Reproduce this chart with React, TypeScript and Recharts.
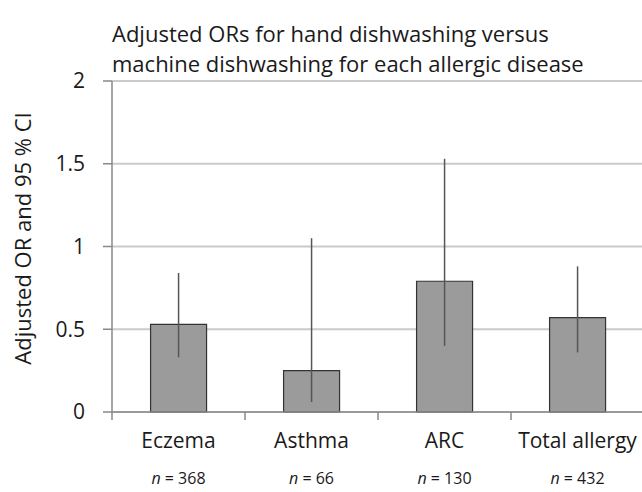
import { BarChart, Bar, XAxis, YAxis, CartesianGrid, ErrorBar } from 'recharts';

const categories = ['Eczema', 'Asthma', 'ARC', 'Total allergy'];
const sampleSizes = [368, 66, 130, 432];
const adjustedOR = [0.53, 0.25, 0.79, 0.57];
const ciLower = [0.33, 0.06, 0.4, 0.36];
const ciUpper = [0.84, 1.05, 1.53, 0.88];
const yTicks = [0, 0.5, 1, 1.5, 2];

const data = categories.map((name, i) => ({
  name,
  n: sampleSizes[i],
  or: adjustedOR[i],
  ci: [adjustedOR[i] - ciLower[i], ciUpper[i] - adjustedOR[i]],
}));

const FONT = '"Open Sans", sans-serif';
const PLOT_WIDTH = 532;
const BAND = PLOT_WIDTH / categories.length;

function CategoryTick(props: any) {
  const { x, y, payload, index } = props;
  const n = sampleSizes[index];
  return (
    <g>
      <line x1={x - BAND / 2} x2={x - BAND / 2} y1={y} y2={y + 8} stroke="#888" strokeWidth={1.5} />
      <text x={x} y={y + 36} textAnchor="middle" fontSize={21} fill="#1a1a1a" fontFamily={FONT}>
        {payload.value}
      </text>
      <text x={x} y={y + 72} textAnchor="middle" fontSize={16} fill="#1a1a1a" fontFamily={FONT}>
        <tspan fontStyle="italic">n</tspan>
        <tspan> = {n}</tspan>
      </text>
    </g>
  );
}

export default function App() {
  return (
    <div style={{ position: 'absolute', left: 0, top: 0, width: 642, height: 492, background: '#fff', overflow: 'hidden' }}>
      <div
        style={{
          position: 'absolute',
          left: 112,
          top: 18,
          fontFamily: FONT,
          fontSize: 22,
          lineHeight: '30px',
          color: '#1a1a1a',
          whiteSpace: 'nowrap',
        }}
      >
        Adjusted ORs for hand dishwashing versus
        <br />
        machine dishwashing for each allergic disease
      </div>
      <BarChart
        width={642}
        height={492}
        data={data}
        margin={{ top: 81, right: -2, left: 0, bottom: 0 }}
        barCategoryGap="29%"
      >
        <CartesianGrid vertical={false} stroke="#cacaca" strokeWidth={1.8} />
        <XAxis
          dataKey="name"
          height={80}
          tickSize={0}
          tickMargin={0}
          tickLine={false}
          stroke="#888"
          strokeWidth={1.5}
          interval={0}
          tick={<CategoryTick />}
        />
        <YAxis
          width={112}
          domain={[0, 2]}
          ticks={yTicks}
          tickSize={9}
          tickMargin={18}
          stroke="#888"
          strokeWidth={1.5}
          tick={{ fontSize: 21, fill: '#1a1a1a', fontFamily: FONT }}
          label={{
            value: 'Adjusted OR and 95 % CI',
            angle: -90,
            position: 'center',
            dx: -33,
            dy: -8,
            style: { fontSize: 22, fill: '#1a1a1a', fontFamily: FONT, textAnchor: 'middle' },
          }}
        />
        <Bar dataKey="or" fill="#9b9b9b" stroke="#333" strokeWidth={1.2} isAnimationActive={false}>
          <ErrorBar dataKey="ci" width={0} stroke="#555" strokeWidth={1.5} direction="y" />
        </Bar>
      </BarChart>
    </div>
  );
}
